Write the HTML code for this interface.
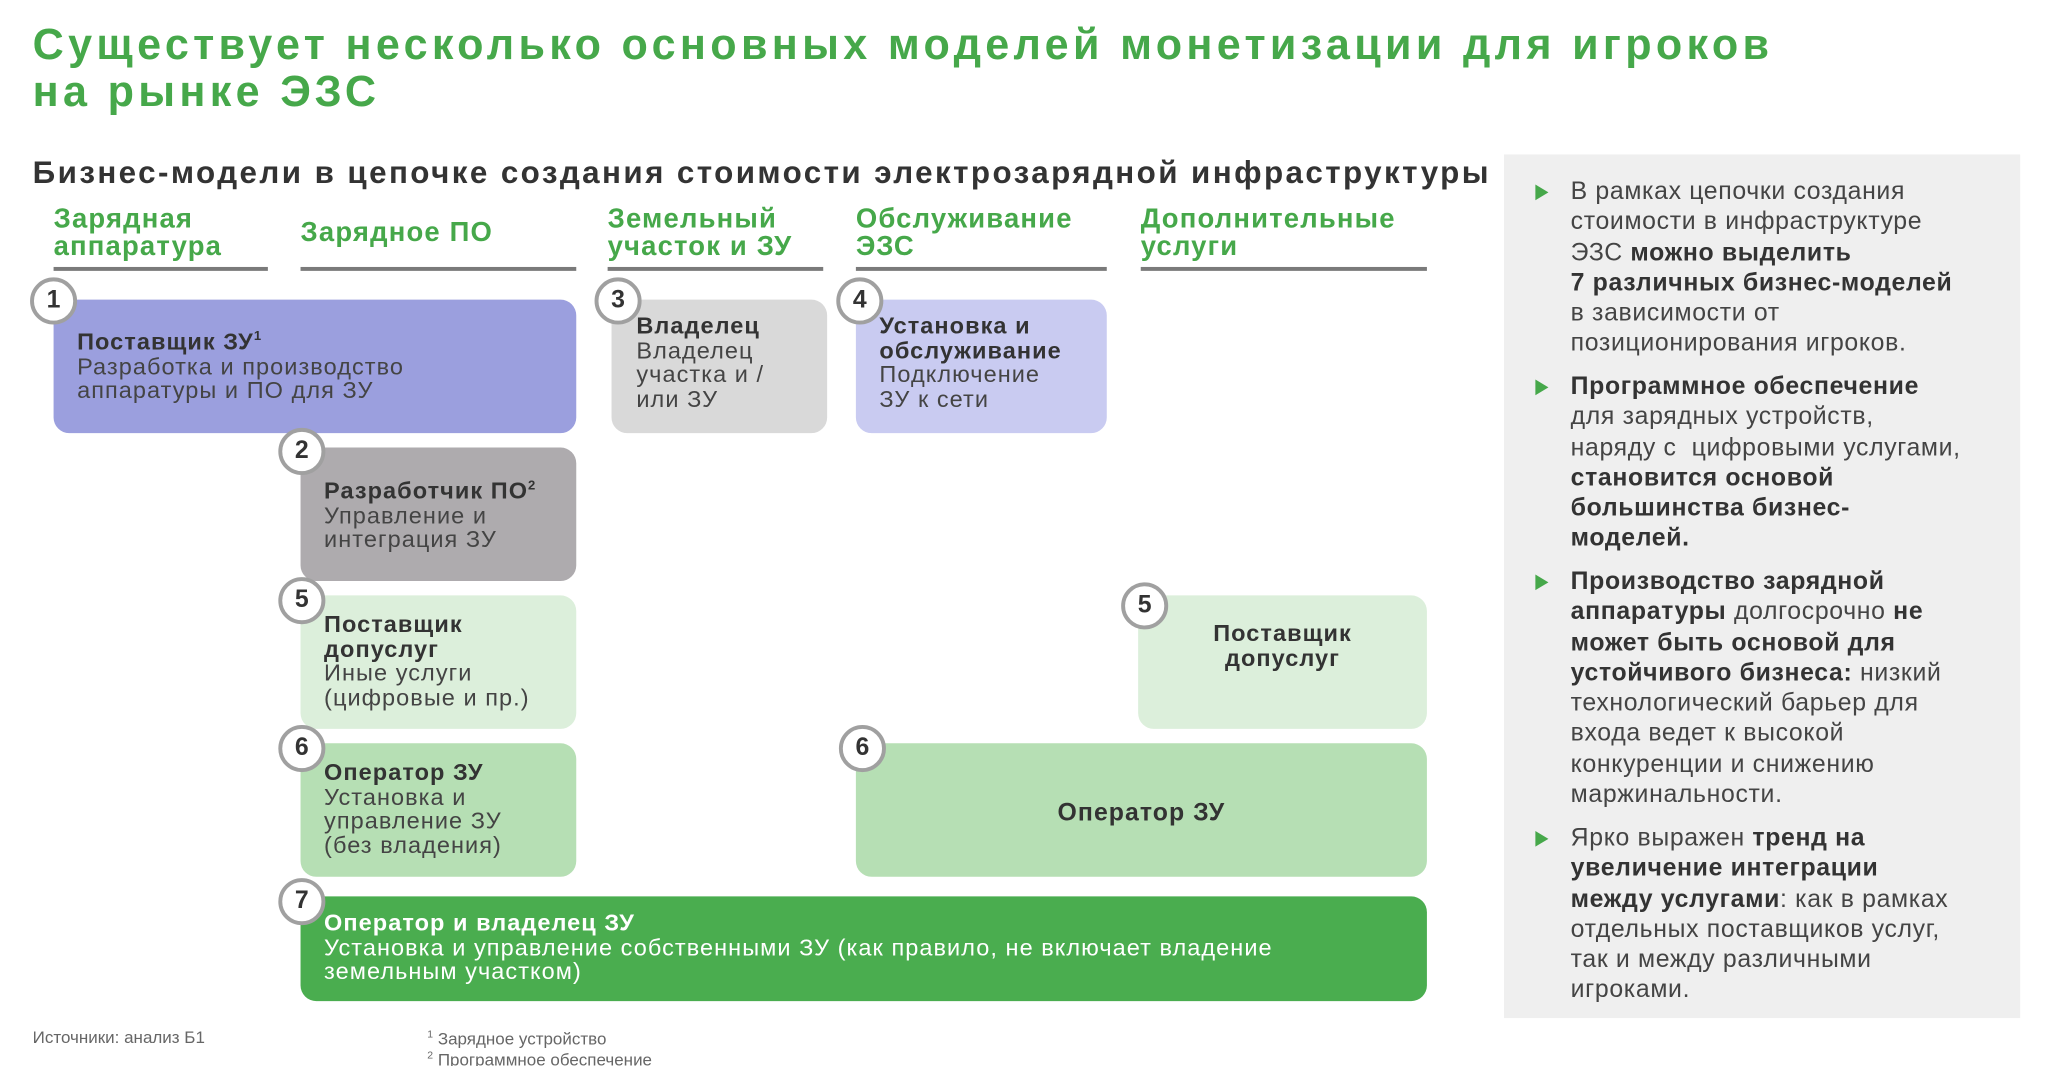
<!DOCTYPE html>
<html><head><meta charset="utf-8"><style>
html,body{margin:0;padding:0;background:#fff;overflow:hidden}
#w{width:2049px;height:1066px;overflow:hidden}
#c{position:relative;width:1568px;height:816px;transform:scale(1.3067,1.3086);transform-origin:0 0;font-family:"Liberation Sans",sans-serif;color:#333}
.a{position:absolute}
h1{position:absolute;left:25px;top:16px;margin:0;font-size:33px;line-height:36px;color:#46a84a;font-weight:bold;letter-spacing:3.3px;white-space:nowrap}
.sub{left:25px;top:119px;font-size:24px;font-weight:bold;color:#333;letter-spacing:1.85px;white-space:nowrap}
.ch{font-size:21px;font-weight:bold;color:#46a84a;line-height:21px;letter-spacing:0.9px;white-space:nowrap}
.ln{height:3px;background:#7a7a7a;top:204px}
.bx{position:absolute;border-radius:12px;box-sizing:border-box;font-size:18px;line-height:18.5px;color:#444;letter-spacing:0.8px;white-space:nowrap}
.bx b{color:#333}
.ci{position:absolute;width:30px;height:30px;border-radius:50%;background:#fff;border:3px solid #a0a0a0;font-weight:bold;font-size:19px;text-align:center;line-height:30px;color:#333;margin:-18px 0 0 -18px}
.rp{left:1151px;top:118px;width:395px;height:660px;background:#efefef}
.bl{position:absolute;left:1202px;font-size:19px;line-height:23.3px;color:#444;white-space:nowrap;letter-spacing:0.5px}
.bl b{color:#333}
.tr{position:absolute;left:1175px;width:0;height:0;border-left:10px solid #46a84a;border-top:6px solid transparent;border-bottom:6px solid transparent}
</style></head><body><div id="w"><div id="c">
<h1>Существует несколько основных моделей монетизации для игроков<br>на рынке ЭЗС</h1>
<div class="a sub">Бизнес-модели в цепочке создания стоимости электрозарядной инфраструктуры</div>
<div class="a ch" style="left:41px;top:157px">Зарядная<br>аппаратура</div>
<div class="a ch" style="left:230px;top:167px">Зарядное ПО</div>
<div class="a ch" style="left:465px;top:157px">Земельный<br>участок и ЗУ</div>
<div class="a ch" style="left:655px;top:157px">Обслуживание<br>ЭЗС</div>
<div class="a ch" style="left:873px;top:157px">Дополнительные<br>услуги</div>
<div class="a ln" style="left:41px;width:164px"></div>
<div class="a ln" style="left:230px;width:211px"></div>
<div class="a ln" style="left:465px;width:165px"></div>
<div class="a ln" style="left:655px;width:192px"></div>
<div class="a ln" style="left:873px;width:219px"></div>

<div class="bx" style="left:41px;top:229px;width:400px;height:102px;background:#9b9fde;padding:20px 0 0 18px"><b>Поставщик ЗУ<sup style="font-size:10px">1</sup></b><br>Разработка и производство<br>аппаратуры и ПО для ЗУ</div>
<div class="bx" style="left:468px;top:229px;width:165px;height:102px;background:#d9d9d9;padding:11px 0 0 19px"><b>Владелец</b><br>Владелец<br>участка и /<br>или ЗУ</div>
<div class="bx" style="left:655px;top:229px;width:192px;height:102px;background:#c9cbf1;padding:11px 0 0 18px"><b>Установка и<br>обслуживание</b><br>Подключение<br>ЗУ к сети</div>
<div class="bx" style="left:230px;top:342px;width:211px;height:102px;background:#aeabae;padding:21px 0 0 18px"><b>Разработчик ПО<sup style="font-size:10px">2</sup></b><br>Управление и<br>интеграция ЗУ</div>
<div class="bx" style="left:230px;top:455px;width:211px;height:102px;background:#dcefdb;padding:13px 0 0 18px"><b>Поставщик<br>допуслуг</b><br>Иные услуги<br>(цифровые и пр.)</div>
<div class="bx" style="left:871px;top:455px;width:221px;height:102px;background:#dcefdb;padding:20px 0 0 0;text-align:center"><b>Поставщик<br>допуслуг</b></div>
<div class="bx" style="left:230px;top:568px;width:211px;height:102px;background:#b6dfb4;padding:13px 0 0 18px"><b>Оператор ЗУ</b><br>Установка и<br>управление ЗУ<br>(без владения)</div>
<div class="bx" style="left:655px;top:568px;width:437px;height:102px;background:#b6dfb4;padding:45px 0 0 0;text-align:center;font-size:19px"><b>Оператор ЗУ</b></div>
<div class="bx" style="left:230px;top:685px;width:862px;height:80px;background:#4aad4f;padding:11px 0 0 18px;color:#fff"><b style="color:#fff">Оператор и владелец ЗУ</b><br>Установка и управление собственными ЗУ (как правило, не включает владение<br>земельным участком)</div>

<div class="ci" style="left:41px;top:230px">1</div>
<div class="ci" style="left:473px;top:230px">3</div>
<div class="ci" style="left:658px;top:230px">4</div>
<div class="ci" style="left:231px;top:345px">2</div>
<div class="ci" style="left:231px;top:459px">5</div>
<div class="ci" style="left:876px;top:463px">5</div>
<div class="ci" style="left:231px;top:572px">6</div>
<div class="ci" style="left:660px;top:572px">6</div>
<div class="ci" style="left:231px;top:689px">7</div>

<div class="a rp"></div>
<div class="tr" style="top:141px"></div>
<div class="bl" style="top:135px">В рамках цепочки создания<br>стоимости в инфраструктуре<br>ЭЗС <b>можно выделить</b><br><b>7 различных бизнес-моделей</b><br>в зависимости от<br>позиционирования игроков.</div>
<div class="tr" style="top:290px"></div>
<div class="bl" style="top:284px"><b>Программное обеспечение</b><br>для зарядных устройств,<br>наряду с&nbsp; цифровыми услугами,<br><b>становится основой</b><br><b>большинства бизнес-</b><br><b>моделей.</b></div>
<div class="tr" style="top:439px"></div>
<div class="bl" style="top:433px"><b>Производство зарядной</b><br><b>аппаратуры</b> долгосрочно <b>не</b><br><b>может быть основой для</b><br><b>устойчивого бизнеса:</b> низкий<br>технологический барьер для<br>входа ведет к высокой<br>конкуренции и снижению<br>маржинальности.</div>
<div class="tr" style="top:635px"></div>
<div class="bl" style="top:629px">Ярко выражен <b>тренд на</b><br><b>увеличение интеграции</b><br><b>между услугами</b>: как в рамках<br>отдельных поставщиков услуг,<br>так и между различными<br>игроками.</div>

<div class="a" style="left:25px;top:785px;font-size:13px;color:#666">Источники: анализ Б1</div>
<div class="a" style="left:327px;top:784px;font-size:13px;color:#666;line-height:13px"><sup style="font-size:8px">1</sup> Зарядное устройство<br><sup style="font-size:8px">2</sup> Программное обеспечение</div>
</div></div></body></html>
